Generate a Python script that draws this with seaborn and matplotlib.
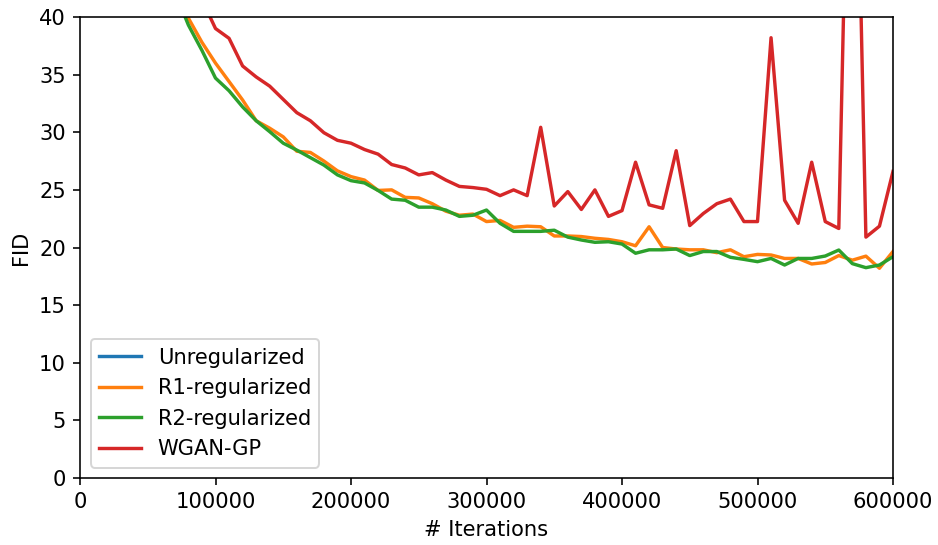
import matplotlib
matplotlib.use("Agg")
import matplotlib.pyplot as plt
import seaborn as sns
import pandas as pd

iterations = list(range(0, 600001, 10000))

unregularized = [
    310, 260, 240, 225, 210, 205, 198, 190, 185, 180,
    178, 175, 172, 170, 168, 165, 163, 160, 158, 157,
    155, 153, 152, 150, 149, 148, 146, 145, 144, 143,
    142, 141, 140, 139, 138, 137, 136, 135, 134, 133,
    132, 131, 130, 129, 128, 127, 126, 125, 124, 123,
    122, 121, 120, 119, 118, 117, 116, 115, 114, 113,
    112,
]

r1_regularized = [
    310, 175, 118, 84, 64, 53, 46.5, 42.3, 39.9, 37.8,
    36.0, 34.4, 32.8, 31.0, 30.35, 29.6, 28.35, 28.25, 27.5, 26.65,
    26.15, 25.85, 24.95, 25.0, 24.35, 24.3, 23.8, 23.15, 22.8, 22.9,
    22.25, 22.35, 21.75, 21.85, 21.8, 21.0, 21.0, 20.95, 20.8, 20.7,
    20.5, 20.15, 21.8, 20.0, 19.87, 19.8, 19.8, 19.55, 19.8, 19.2,
    19.4, 19.35, 19.05, 19.05, 18.57, 18.7, 19.3, 18.9, 19.25, 18.2,
    19.65,
]

r2_regularized = [
    320, 180, 120, 85, 65, 54, 47, 42.2, 39.3, 37.1,
    34.7, 33.6, 32.2, 31.0, 30.05, 29.05, 28.45, 27.8, 27.15, 26.3,
    25.8, 25.6, 24.95, 24.2, 24.1, 23.5, 23.5, 23.25, 22.7, 22.8,
    23.25, 22.1, 21.4, 21.4, 21.4, 21.5, 20.9, 20.65, 20.45, 20.5,
    20.3, 19.5, 19.8, 19.8, 19.87, 19.3, 19.65, 19.65, 19.15, 18.97,
    18.77, 19.05, 18.48, 19.05, 19.05, 19.26, 19.78, 18.6, 18.25, 18.48,
    19.2,
]

wgan_gp = [
    280, 190, 130, 95, 72, 60, 52, 47, 43.8, 41.5,
    39.0, 38.15, 35.75, 34.8, 34.0, 32.85, 31.7, 31.0, 29.96, 29.3,
    29.05, 28.5, 28.1, 27.2, 26.9, 26.3, 26.5, 25.85, 25.3, 25.2,
    25.05, 24.5, 25.0, 24.5, 30.43, 23.6, 24.85, 23.3, 25.0, 22.7,
    23.2, 27.4, 23.7, 23.4, 28.4, 21.9, 22.95, 23.8, 24.2, 22.25,
    22.25, 38.2, 24.1, 22.1, 27.4, 22.25, 21.65, 75.0, 20.9, 21.85,
    26.6,
]

series_names = ["Unregularized", "R1-regularized", "R2-regularized", "WGAN-GP"]
series_values = [unregularized, r1_regularized, r2_regularized, wgan_gp]

frames = []
for name, vals in zip(series_names, series_values):
    frames.append(pd.DataFrame({"iter": iterations, "fid": vals, "method": name}))
df = pd.concat(frames, ignore_index=True)

dpi = 144
fig = plt.figure(figsize=(938 / dpi, 545 / dpi), dpi=dpi)
ax = fig.add_axes([80 / 938, 1 - 478 / 545, (893 - 80) / 938, (478 - 17) / 545])

palette = ["#1f77b4", "#ff7f0e", "#2ca02c", "#d62728"]
sns.lineplot(data=df, x="iter", y="fid", hue="method", hue_order=series_names,
             palette=palette, linewidth=1.7, estimator=None, ax=ax)

ax.set_xlim(0, 600000)
ax.set_ylim(0, 40)
ax.set_xticks(range(0, 600001, 100000))
ax.set_yticks(range(0, 41, 5))
ax.set_xlabel("# Iterations", fontsize=10.5)
ax.set_ylabel("FID", fontsize=10.5)
ax.tick_params(labelsize=10.5)

handles, labels = ax.get_legend_handles_labels()
ax.legend(handles, labels, loc="lower left", fontsize=10.5)

fig.savefig("out.png", dpi=dpi)
